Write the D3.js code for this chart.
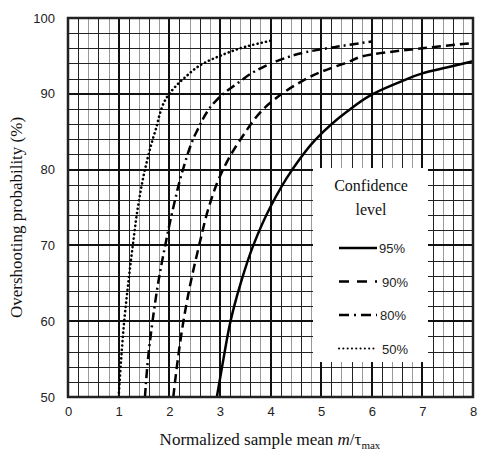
<!DOCTYPE html>
<meta charset="utf-8">
<script src="https://d3js.org/d3.v7.min.js"></script>
<style type="text/css">
body { margin: 0; background: #fff; }
.tick text { font-family: "Liberation Sans", Arial, sans-serif; font-size: 13px; fill: #222; }
.title { font-family: "Liberation Serif", "Times New Roman", serif; font-size: 17px; fill: #111; }
.legtext { font-family: "Liberation Serif", "Times New Roman", serif; font-size: 16px; fill: #111; }
.leglab { font-family: "Liberation Sans", Arial, sans-serif; font-size: 13px; fill: #222; }
</style>
<body>
</body>
<script>

var xTicks = [0, 1, 2, 3, 4, 5, 6, 7, 8];
var yTicks = [50, 60, 70, 80, 90, 100];

var levels = ["95%", "90%", "80%", "50%"];

// [normalized mean, overshooting probability %]
var conf95 = [[2.94,50],[3.07,55],[3.21,60],[3.41,65],[3.66,70],[4.0,75.1],[4.42,79.9],[4.88,83.9],
              [5.5,87.6],[6.03,90],[6.5,91.4],[7.0,92.7],[7.5,93.5],[8.0,94.3]];
var conf90 = [[2.08,50],[2.17,55],[2.28,60],[2.42,65],[2.59,70],[2.78,75],[3.0,79.1],[3.4,83.9],
              [4.03,89],[4.5,91.2],[5.0,92.9],[5.5,94.1],[6.0,95.2],[7.0,96.0],[8.0,96.7]];
var conf80 = [[1.52,50],[1.58,55],[1.67,60],[1.78,65],[1.92,70],[2.08,75],[2.27,80],[2.54,85],
              [2.94,89.2],[3.07,90],[3.37,91.5],[3.7,93],[4.2,94.5],[4.7,95.5],[5.3,96.2],[6.0,96.9]];
var conf50 = [[1.0,50],[1.05,55],[1.11,60],[1.19,65],[1.28,70],[1.38,75],[1.52,80],[1.72,85],
              [2.0,90],[2.3,92.1],[2.7,94.1],[3.0,95.0],[3.5,96.2],[4.0,97.0]];

var series = [conf95, conf90, conf80, conf50];
var dashes = [null, "9,5", "9,4,2,4", "0.1,4.2"];

var margin = {top: 18, right: 6, bottom: 53, left: 68};
var width = 479 - margin.left - margin.right,
    height = 450 - margin.top - margin.bottom;

var svg = d3.select("body").append("svg")
    .attr("width", 479)
    .attr("height", 450)
  .append("g")
    .attr("transform", "translate(" + margin.left + "," + margin.top + ")");

var x = d3.scaleLinear().domain([0, 8]).range([0, width]);
var y = d3.scaleLinear().domain([50, 100]).range([height, 0]);

// minor grid
var xMinor = d3.range(0, 8.001, 0.2);
var yMinor = d3.range(50, 100.001, 2);

svg.selectAll(".vminor")
    .data(xMinor)
  .enter().append("line")
    .attr("x1", function(d) { return Math.round(x(d)) + 0.5; })
    .attr("x2", function(d) { return Math.round(x(d)) + 0.5; })
    .attr("y1", 0).attr("y2", height)
    .attr("stroke", function(d, i) { return (i % 5 == 2 || i % 5 == 4) ? "#999" : "#222"; })
    .attr("stroke-width", 1);

svg.selectAll(".hminor")
    .data(yMinor)
  .enter().append("line")
    .attr("y1", function(d) { return Math.round(y(d)) + 0.5; })
    .attr("y2", function(d) { return Math.round(y(d)) + 0.5; })
    .attr("x1", 0).attr("x2", width)
    .attr("stroke", "#222")
    .attr("stroke-width", 1);

// major grid
svg.selectAll(".vmajor")
    .data(xTicks)
  .enter().append("line")
    .attr("x1", function(d) { return Math.round(x(d)); })
    .attr("x2", function(d) { return Math.round(x(d)); })
    .attr("y1", 0).attr("y2", height)
    .attr("stroke", "#111")
    .attr("stroke-width", 2);

svg.selectAll(".hmajor")
    .data(yTicks)
  .enter().append("line")
    .attr("y1", function(d) { return Math.round(y(d)); })
    .attr("y2", function(d) { return Math.round(y(d)); })
    .attr("x1", 0).attr("x2", width)
    .attr("stroke", "#111")
    .attr("stroke-width", 2);

// legend box (covers grid)
var lg = svg.append("g").attr("transform", "translate(" + (313 - margin.left) + "," + (168 - margin.top) + ")");
lg.append("rect").attr("width", 115).attr("height", 194).attr("fill", "#fff");

// curves
svg.append("clipPath").attr("id", "clip")
  .append("rect").attr("width", width).attr("height", height);

var line = d3.line()
    .x(function(d) { return x(d[0]); })
    .y(function(d) { return y(d[1]); })
    .curve(d3.curveMonotoneY);

svg.selectAll(".curve")
    .data(series)
  .enter().append("path")
    .attr("clip-path", "url(#clip)")
    .attr("d", line)
    .attr("fill", "none")
    .attr("stroke", "#000")
    .attr("stroke-width", function(d, i) { return i == 3 ? 2.6 : 2.5; })
    .attr("stroke-linecap", function(d, i) { return i == 3 ? "round" : "butt"; })
    .attr("stroke-dasharray", function(d, i) { return dashes[i]; });

// frame
svg.append("rect")
    .attr("width", width).attr("height", height)
    .attr("fill", "none").attr("stroke", "#222").attr("stroke-width", 2.5);

// legend contents
lg.append("text").attr("class", "legtext").attr("x", 58).attr("y", 23).attr("text-anchor", "middle").text("Confidence");
lg.append("text").attr("class", "legtext").attr("x", 58).attr("y", 47).attr("text-anchor", "middle").text("level");

var entries = lg.selectAll(".entry")
    .data(levels)
  .enter().append("g")
    .attr("transform", function(d, i) { return "translate(0," + (80 + i * 33.5) + ")"; });

entries.append("line")
    .attr("x1", 26).attr("x2", 64)
    .attr("stroke", "#000")
    .attr("stroke-width", function(d, i) { return i == 3 ? 2 : 2.5; })
    .attr("stroke-linecap", function(d, i) { return i == 3 ? "round" : "butt"; })
    .attr("stroke-dasharray", function(d, i) { return i == 1 ? "10,8" : i == 2 ? "10,5,2,5" : i == 3 ? "0.1,4.2" : null; });

entries.append("text")
    .attr("class", "leglab")
    .attr("x", function(d, i) { return i == 0 ? 66 : i == 2 ? 67 : 69; })
    .attr("y", 5)
    .text(function(d) { return d; });

// axes
var xAxis = svg.append("g")
    .attr("transform", "translate(0," + height + ")")
    .call(d3.axisBottom(x).tickValues(xTicks).tickSize(0).tickPadding(10));
xAxis.select(".domain").remove();

var yAxis = svg.append("g")
    .call(d3.axisLeft(y).tickValues(yTicks).tickSize(0).tickPadding(13));
yAxis.select(".domain").remove();

// titles
var xt = svg.append("text").attr("class", "title")
    .attr("x", 202).attr("y", height + 48)
    .attr("text-anchor", "middle");
xt.append("tspan").text("Normalized sample mean ");
xt.append("tspan").attr("font-style", "italic").text("m");
xt.append("tspan").text("/\u03C4");
xt.append("tspan").attr("font-size", "11px").attr("dy", 4).text("max");

svg.append("text").attr("class", "title")
    .attr("transform", "translate(" + (-46) + "," + (height / 2 + 10) + ") rotate(-90)")
    .attr("text-anchor", "middle")
    .text("Overshooting probability (%)");

</script>
